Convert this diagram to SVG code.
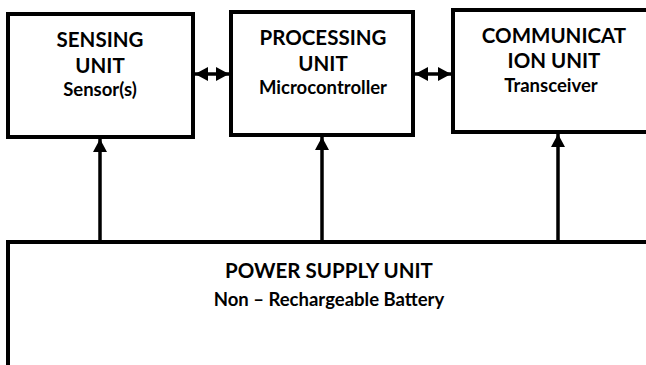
<svg xmlns="http://www.w3.org/2000/svg" width="646" height="365" viewBox="0 0 646 365">
<defs>
<style>
.box{fill:#fff;stroke:#000;stroke-width:4}
.h{font-family:Lato,"Liberation Sans",sans-serif;font-weight:bold;font-size:20.5px;text-anchor:middle;fill:#000}
.s{font-family:Lato,"Liberation Sans",sans-serif;font-weight:bold;font-size:18.5px;text-anchor:middle;fill:#000}
.c{stroke:#000;stroke-width:3.5;fill:none}
</style>
<marker id="ah" viewBox="0 0 13 14" refX="13" refY="7" markerWidth="13" markerHeight="14" orient="auto-start-reverse" markerUnits="userSpaceOnUse">
<path d="M0,0 L13,7 L0,14 z" fill="#000"/>
</marker>
</defs>
<rect width="646" height="365" fill="#fff"/>
<g id="sensing">
<rect class="box" x="8" y="14" width="185" height="123"/>
<text class="h" x="100" y="47">SENSING</text>
<text class="h" x="100" y="73">UNIT</text>
<text class="s" x="100" y="96">Sensor(s)</text>
</g>
<g id="processing">
<rect class="box" x="231" y="12" width="182" height="123"/>
<text class="h" x="323" y="45">PROCESSING</text>
<text class="h" x="323" y="71">UNIT</text>
<text class="s" x="323" y="94">Microcontroller</text>
</g>
<g id="communication">
<rect class="box" x="453" y="10" width="200" height="122"/>
<text class="h" x="554" y="43">COMMUNICAT</text>
<text class="h" x="554" y="68">ION UNIT</text>
<text class="s" x="551" y="92">Transceiver</text>
</g>
<g id="power">
<rect class="box" x="8" y="242" width="650" height="140"/>
<text class="h" x="329" y="278">POWER SUPPLY UNIT</text>
<text class="s" x="329" y="306">Non – Rechargeable Battery</text>
</g>
<g id="connectors">
<line class="c" x1="195" y1="74" x2="229" y2="74" marker-start="url(#ah)" marker-end="url(#ah)"/>
<line class="c" x1="415" y1="74" x2="451" y2="74" marker-start="url(#ah)" marker-end="url(#ah)"/>
<line class="c" x1="100" y1="240" x2="100" y2="139" marker-end="url(#ah)"/>
<line class="c" x1="322" y1="240" x2="322" y2="137" marker-end="url(#ah)"/>
<line class="c" x1="558" y1="240" x2="558" y2="134" marker-end="url(#ah)"/>
</g>
</svg>
